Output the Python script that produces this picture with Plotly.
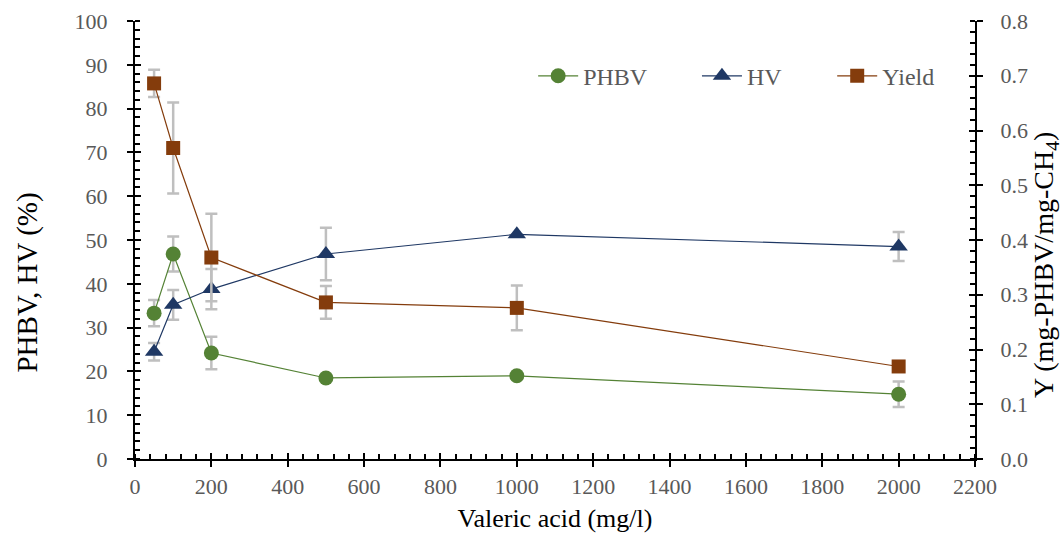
import plotly.graph_objects as go

x_vals = [50, 100, 200, 500, 1000, 2000]
phbv = [33.3, 46.8, 24.2, 18.5, 19.0, 14.8]
phbv_err = [3.0, 4.0, 3.7, 0.0, 0.0, 2.9]
hv = [24.5, 35.2, 38.8, 46.8, 51.3, 48.5]
hv_err = [2.0, 3.4, 4.6, 6.0, 0.0, 3.3]
yld = [0.686, 0.568, 0.368, 0.286, 0.276, 0.169]
yld_err = [0.025, 0.083, 0.08, 0.03, 0.041, 0.0]

FONT = "Liberation Serif, Times New Roman, Times, serif"
GRAY = "#595959"
ERR = dict(type="data", visible=True, color="#BFBFBF", thickness=2.5, width=6)

fig = go.Figure()
fig.add_trace(go.Scatter(
    x=x_vals, y=phbv, name="PHBV", mode="lines+markers", legend="legend",
    line=dict(color="#548235", width=1.2),
    marker=dict(symbol="circle", size=15, color="#548235"),
    error_y=dict(array=phbv_err, **ERR)))
fig.add_trace(go.Scatter(
    x=x_vals, y=hv, name="HV", mode="lines+markers", legend="legend2",
    line=dict(color="#1F3864", width=1.2),
    marker=dict(symbol="triangle-up", size=16, color="#1F3864"),
    error_y=dict(array=hv_err, **ERR)))
fig.add_trace(go.Scatter(
    x=x_vals, y=yld, name="Yield", mode="lines+markers", yaxis="y2", legend="legend3",
    line=dict(color="#843C0C", width=1.2),
    marker=dict(symbol="square", size=14, color="#843C0C"),
    error_y=dict(array=yld_err, **ERR)))
# invisible helper traces so the inner-tick overlay axes are drawn
fig.add_trace(go.Scatter(x=[None], y=[None], xaxis="x3", yaxis="y3", showlegend=False, hoverinfo="skip"))
fig.add_trace(go.Scatter(x=[None], y=[None], xaxis="x3", yaxis="y4", showlegend=False, hoverinfo="skip"))

TICKFONT = dict(family=FONT, size=22, color=GRAY)
axis_common = dict(showline=True, linecolor="black", linewidth=2, ticks="outside",
                   ticklen=6, tickwidth=2, tickcolor="black", showgrid=False, zeroline=False,
                   automargin=False, tickfont=TICKFONT)
inner_common = dict(showline=False, ticks="inside", ticklen=6, tickwidth=2, tickcolor="black",
                    showgrid=False, zeroline=False, showticklabels=False, automargin=False)
minor_in = dict(ticklen=5, tickwidth=2, tickcolor="black", ticks="inside")

leg = dict(orientation="h", y=0.874, yanchor="middle", xanchor="left", itemwidth=40,
           font=dict(family=FONT, size=24, color=GRAY), bgcolor="rgba(0,0,0,0)")

fig.update_layout(
    width=1063, height=533,
    margin=dict(l=135, r=88, t=21, b=74),
    plot_bgcolor="white", paper_bgcolor="white",
    font=dict(family=FONT),
    showlegend=True,
    legend=dict(x=0.474, **leg),
    legend2=dict(x=0.669, **leg),
    legend3=dict(x=0.830, **leg),
    xaxis=dict(range=[0, 2200], dtick=200, tick0=0, minor=dict(dtick=40, **minor_in),
               ticklabelstandoff=1,
               title=dict(text="Valeric acid (mg/l)", font=dict(family=FONT, size=26, color="black"), standoff=18),
               **axis_common),
    yaxis=dict(range=[0, 100], dtick=10, tick0=0, minor=dict(dtick=2, **minor_in),
               ticklabelstandoff=15, **axis_common),
    yaxis2=dict(range=[0, 0.8], dtick=0.1, tick0=0, tickformat=".1f", overlaying="y", side="right",
                minor=dict(dtick=0.02, **minor_in), ticklabelstandoff=13, **axis_common),
    xaxis3=dict(range=[0, 2200], dtick=200, tick0=0, overlaying="x", anchor="y3", side="bottom", **inner_common),
    yaxis3=dict(range=[0, 100], dtick=10, tick0=0, overlaying="y", anchor="x3", side="left", **inner_common),
    yaxis4=dict(range=[0, 0.8], dtick=0.1, tick0=0, overlaying="y", anchor="x3", side="right", **inner_common),
    annotations=[
        dict(text="PHBV, HV (%)", textangle=-90, xref="paper", yref="paper",
             x=-0.128, y=0.404, xanchor="center", yanchor="middle", showarrow=False,
             font=dict(family=FONT, size=29, color="black")),
        dict(text="Y (mg-PHBV/mg-CH<sub>4</sub>)", textangle=-90, xref="paper", yref="paper",
             x=1.0845, y=0.443, xanchor="center", yanchor="middle", showarrow=False,
             font=dict(family=FONT, size=28, color="black")),
    ],
)

fig.write_html("out.html")
